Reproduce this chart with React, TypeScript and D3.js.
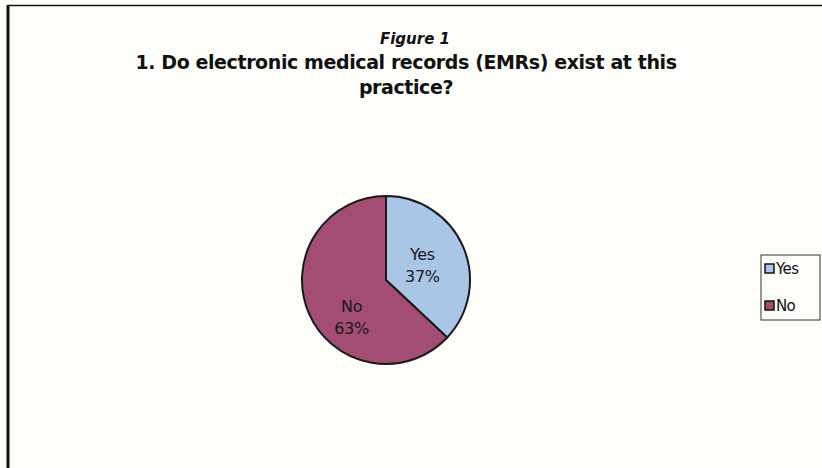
import React from "react";
import * as d3 from "d3";

const categories = ["Yes", "No"];
const values = [37, 63];
const colors = ["#a9c6e6", "#a44d74"];
const titleLines = ["1. Do electronic medical records (EMRs) exist at this", "practice?"];
const figureLabel = "Figure 1";

export default function App() {
  const W = 822, H = 468;
  const cx = 386, cy = 280, r = 84;
  const pie = d3.pie<number>().sort(null).value((d) => d)(values);
  const arc = d3.arc<d3.PieArcDatum<number>>().innerRadius(0).outerRadius(r);
  const labelArc = d3.arc<d3.PieArcDatum<number>>().innerRadius(r * 0.55).outerRadius(r * 0.55);
  const labelShift = [[-6, 0], [8, 16]];
  const font = "'DejaVu Sans', Verdana, sans-serif";
  return (
    <svg width={W} height={H} style={{ position: "absolute", left: 0, top: 0, background: "#fdfdf9" }}>
      <rect x={0} y={0} width={W} height={H} fill="#fdfdf9" />
      <line x1={8} y1={5.5} x2={W} y2={5.5} stroke="#111" strokeWidth={1.5} />
      <line x1={8} y1={5} x2={8} y2={H} stroke="#111" strokeWidth={3} />
      <text x={415} y={44} textAnchor="middle" fontFamily={font} fontSize={15} fontWeight="bold" fontStyle="italic" fill="#111">{figureLabel}</text>
      {titleLines.map((t, i) => (
        <text key={i} x={406} y={69 + i * 25} textAnchor="middle" fontFamily={font} fontSize={19} fontWeight="bold" fill="#111" letterSpacing={-0.4}>{t}</text>
      ))}
      <g transform={`translate(${cx},${cy})`}>
        {pie.map((p, i) => (
          <path key={i} d={arc(p) || ""} fill={colors[i]} stroke="#1a1a1a" strokeWidth={2} />
        ))}
        {pie.map((p, i) => {
          const [lx0, ly0] = labelArc.centroid(p);
          const lx = lx0 + labelShift[i][0], ly = ly0 + labelShift[i][1];
          return (
            <text key={"l" + i} textAnchor="middle" fontFamily={font} fontSize={16} fill="#1a1a1a" letterSpacing={-0.3}>
              <tspan x={lx} y={ly - 2}>{categories[i]}</tspan>
              <tspan x={lx} y={ly + 20}>{values[i] + "%"}</tspan>
            </text>
          );
        })}
      </g>
      <g>
        <rect x={761} y={255} width={59} height={65} fill="#fdfdf9" stroke="#333" strokeWidth={1} />
        {categories.map((c, i) => (
          <g key={c} transform={`translate(765,${274 + i * 37})`}>
            <rect x={0} y={-10} width={9} height={9} fill={colors[i]} stroke="#111" strokeWidth={1.5} />
            <text x={11} y={0} fontFamily={font} fontSize={15} fill="#111" letterSpacing={-0.6}>{c}</text>
          </g>
        ))}
      </g>
    </svg>
  );
}
